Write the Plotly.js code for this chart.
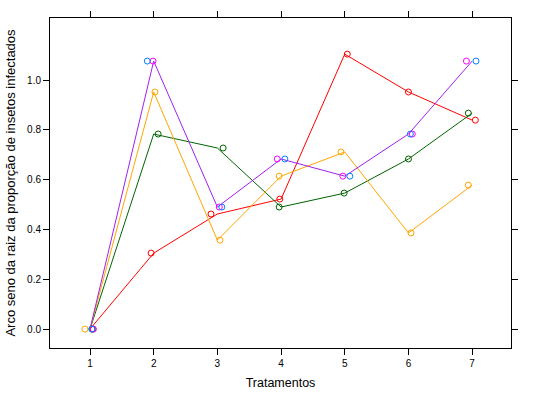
<!DOCTYPE html><html><head><script src="https://cdn.plot.ly/plotly-3.0.1.min.js"></script></head><body style="margin:0"><div id="c" style="width:540px;height:400px"></div><script>
const trat=[1,2,3,4,5,6,7];
const redY=[0,0.305,0.462,0.522,1.104,0.952,0.839];
const redX=[1.05,1.96,2.90,3.98,5.04,6.0,7.05];
const greenY=[0,0.783,0.727,0.49,0.546,0.683,0.867];
const greenX=[1.03,2.07,3.09,3.97,4.99,6.0,6.94];
const orangeY=[0,0.952,0.357,0.614,0.711,0.386,0.578];
const orangeX=[0.92,2.02,3.04,3.97,4.94,6.04,6.94];
const magY=[0,1.076,0.49,0.683,0.614,0.783,1.076];
const magX=[1.05,1.99,3.03,3.94,4.97,6.06,6.91];
const blueY=[0,1.076,0.49,0.683,0.614,0.783,1.076];
const blueX=[1.03,1.90,3.07,4.06,5.08,6.03,7.06];
const purpleY=magY.map((v,i)=>(v+blueY[i])/2);
function pts(x,y,c){return {x:x,y:y,mode:'markers',type:'scatter',marker:{symbol:'circle-open',size:6,color:c,line:{width:1}},hoverinfo:'none'};}
function ln(y,c){return {x:trat,y:y,mode:'lines',type:'scatter',line:{color:c,width:1},hoverinfo:'none'};}
const data=[ln(redY,'#ff0000'),ln(greenY,'#006400'),ln(orangeY,'#ffa500'),ln(purpleY,'#a020f0'),
pts(redX,redY,'#ff0000'),pts(greenX,greenY,'#006400'),pts(orangeX,orangeY,'#ffa500'),pts(magX,magY,'#ff00ff'),pts(blueX,blueY,'#0080ff')];
const ax={showgrid:false,zeroline:false,showline:true,linecolor:'#000',linewidth:1,mirror:'ticks',ticks:'outside',ticklen:6,tickcolor:'#000',tickfont:{size:10,family:'Liberation Sans, Arial',color:'#000'}};
Plotly.newPlot('c',data,{width:540,height:400,showlegend:false,margin:{l:50,r:29,t:18,b:52},plot_bgcolor:'#fff',paper_bgcolor:'#fff',
xaxis:Object.assign({},ax,{range:[0.372,7.61],tickvals:trat,title:{text:'Tratamentos',font:{size:12.5,family:'Liberation Sans, Arial',color:'#000'},standoff:10}}),
yaxis:Object.assign({},ax,{range:[-0.076,1.249],tickvals:[0,0.2,0.4,0.6,0.8,1.0],tickformat:'.1f',title:{text:'Arco seno da raiz da proporção de insetos infectados',font:{size:13,family:'Liberation Sans, Arial',color:'#000'},standoff:8}})},{staticPlot:true});
</script></body></html>
